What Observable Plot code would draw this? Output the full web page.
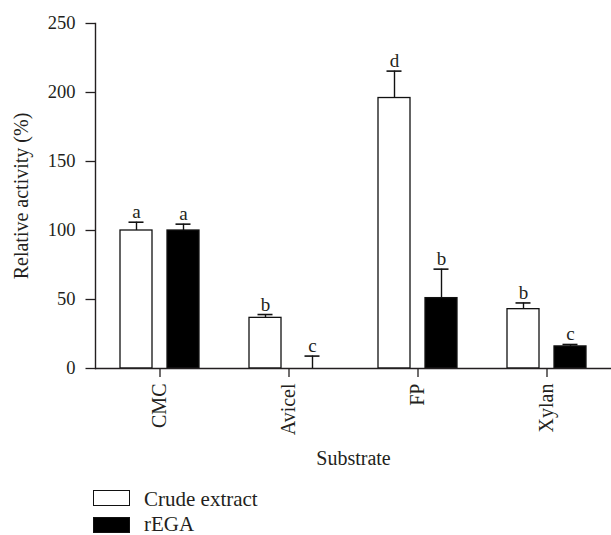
<!DOCTYPE html>
<html>
<head>
<meta charset="utf-8">
<script src="https://cdn.jsdelivr.net/npm/d3@7"></script>
<script src="https://cdn.jsdelivr.net/npm/@observablehq/plot@0.6"></script>
<style>
  body { margin: 0; background: #fff; font-family: "Liberation Serif", serif; color: #231f20; }
  #page { position: relative; width: 611px; height: 535px; overflow: hidden; }
  #chart svg, #chart svg text { font-family: "Liberation Serif", serif !important; }
  .sw { position: absolute; left: 93px; width: 37px; height: 16px; box-sizing: border-box; border: 1.4px solid #111; }
  .lab { position: absolute; left: 144px; font-size: 21px; line-height: 21px; white-space: nowrap; }
</style>
</head>
<body>
<div id="page">
<div id="chart"></div>
<div id="legend"></div>
</div>
<script>
const substrates = ["CMC", "Avicel", "FP", "Xylan"];
const groups = ["Crude extract", "rEGA"];
const crude = [100, 36.7, 196, 43];
const crudeErr = [6, 2.4, 19.5, 4.5];
const crudeLetters = ["a", "b", "d", "b"];
const rega = [100, 0, 51, 16];
const regaErr = [4.6, 9, 21, 1.4];
const regaLetters = ["a", "c", "b", "c"];
const yTicks = [0, 50, 100, 150, 200, 250];
const groupFill = ["white", "black"];

const data = [];
substrates.forEach((s, i) => {
  data.push({substrate: s, group: groups[0], value: crude[i], err: crudeErr[i], letter: crudeLetters[i]});
  data.push({substrate: s, group: groups[1], value: rega[i], err: regaErr[i], letter: regaLetters[i]});
});

const ink = "#231f20";
const chart = Plot.plot({
  width: 611,
  height: 478,
  marginLeft: 94,
  marginRight: 0,
  marginTop: 23,
  marginBottom: 110,
  style: {fontFamily: "Liberation Serif", color: ink, background: "white"},
  fx: {domain: substrates, padding: 0},
  x: {domain: groups, paddingInner: 0.32, paddingOuter: 0.52, axis: null},
  y: {domain: [0, 250], axis: null},
  color: {domain: groups, range: groupFill},
  marks: [
    Plot.frame({anchor: "left", facetAnchor: "left", stroke: ink, strokeWidth: 1.4}),
    Plot.axisY({ticks: yTicks, tickSize: 9.5, tickPadding: 10.5, fontSize: 18.5,
      stroke: ink, strokeWidth: 1.3, label: null}),
    Plot.axisY({ticks: [], fontSize: 20,
      label: "Relative activity (%)", labelAnchor: "center", labelArrow: "none", labelOffset: 82}),
    Plot.axisFx({anchor: "bottom", tickSize: 9, tickRotate: -90, tickPadding: 6, fontSize: 20,
      stroke: ink, strokeWidth: 1.3,
      label: "Substrate", labelAnchor: "center", labelOffset: 96}),
    Plot.barY(data, {fx: "substrate", x: "group", y: "value", fill: "group", stroke: "#111", strokeWidth: 1.3}),
    Plot.ruleY([0], {stroke: ink, strokeWidth: 1.4}),
    Plot.ruleX(data, {fx: "substrate", x: "group", y1: "value", y2: d => d.value + d.err, stroke: "#111", strokeWidth: 1.4}),
    Plot.tickY(data, {fx: "substrate", x: "group", y: d => d.value + d.err, stroke: "#111", strokeWidth: 1.6, insetLeft: 8.5, insetRight: 8.5}),
    Plot.text(data, {fx: "substrate", x: "group", y: d => d.value + d.err, text: "letter", dy: -4, lineAnchor: "bottom", fontSize: 19, fill: ink})
  ]
});
document.getElementById("chart").appendChild(chart);

const legend = document.getElementById("legend");
const legendTops = [489, 514];
groups.forEach((g, i) => {
  const sw = document.createElement("div");
  sw.className = "sw";
  sw.style.top = (legendTops[i] + 0.5 + i * 2.5) + "px";
  sw.style.background = groupFill[i];
  const lab = document.createElement("span");
  lab.className = "lab";
  lab.style.top = legendTops[i] + "px";
  lab.textContent = g;
  legend.appendChild(sw);
  legend.appendChild(lab);
});
</script>
</body>
</html>
